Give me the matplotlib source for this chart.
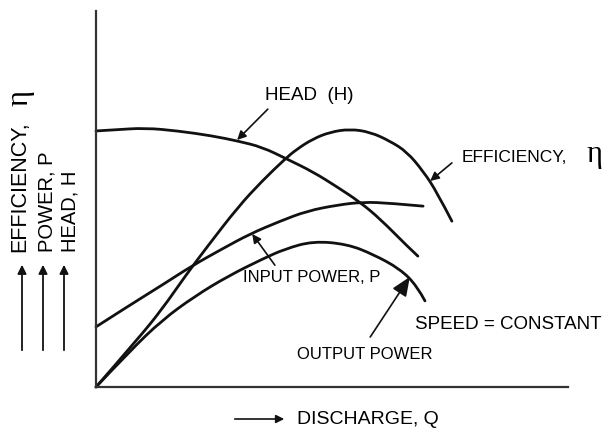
import matplotlib
matplotlib.use("Agg")
import matplotlib.pyplot as plt
from matplotlib.path import Path
from matplotlib.patches import PathPatch, FancyArrowPatch

# discharge Q and curve values, arbitrary units (axes span 0..10)
head_q = [0.0, 0.40, 1.04, 1.74, 2.46, 3.01, 3.52, 4.05, 4.60, 5.11, 5.59, 6.02, 6.59, 6.82]
head_h = [6.81, 6.84, 6.89, 6.81, 6.68, 6.54, 6.38, 6.06, 5.72, 5.32, 4.92, 4.47, 3.75, 3.48]

eff_q = [0.0, 0.89, 1.40, 1.89, 2.35, 3.01, 3.52, 4.00, 4.26, 4.60, 4.96, 5.38, 5.81, 6.23, 6.59, 6.93, 7.22, 7.54]
eff_e = [0.0, 1.28, 2.07, 2.95, 3.72, 4.79, 5.48, 6.06, 6.33, 6.60, 6.78, 6.86, 6.78, 6.54, 6.25, 5.74, 5.19, 4.41]

inp_q = [0.0, 0.72, 1.40, 2.03, 2.67, 3.26, 3.90, 4.47, 5.11, 5.66, 6.23, 6.93]
inp_p = [1.60, 2.18, 2.71, 3.22, 3.67, 4.07, 4.41, 4.68, 4.84, 4.92, 4.89, 4.81]

out_q = [0.0, 0.72, 1.40, 2.10, 2.80, 3.52, 4.00, 4.60, 5.32, 5.87, 6.44, 6.80, 6.97]
out_p = [0.0, 0.96, 1.78, 2.42, 2.95, 3.40, 3.67, 3.88, 3.80, 3.53, 3.14, 2.69, 2.29]

W, H = 611, 431
FONT = ["Liberation Sans", "DejaVu Sans"]
SERIF = ["Liberation Serif", "DejaVu Serif"]


def smooth_path(xs, ys):
    # quadratic bezier: read points act as control points, midpoints as nodes
    pts = list(zip(xs, ys))
    verts = [pts[0]]
    codes = [Path.MOVETO]
    for i in range(1, len(pts) - 1):
        mid = ((pts[i][0] + pts[i + 1][0]) / 2, (pts[i][1] + pts[i + 1][1]) / 2)
        if i == len(pts) - 2:
            mid = pts[-1]
        verts += [pts[i], mid]
        codes += [Path.CURVE3, Path.CURVE3]
    return Path(verts, codes)


fig = plt.figure(figsize=(W / 100, H / 100), dpi=100)
ax = fig.add_axes([96 / W, 1 - 388 / H, 472 / W, 376 / H])
ax.set_xlim(0, 10)
ax.set_ylim(0, 10)
for side in ("top", "right"):
    ax.spines[side].set_visible(False)
for side in ("left", "bottom"):
    ax.spines[side].set_linewidth(1.6)
    ax.spines[side].set_color("#333333")
ax.set_xticks([])
ax.set_yticks([])

for q, v in [(head_q, head_h), (eff_q, eff_e), (inp_q, inp_p), (out_q, out_p)]:
    ax.add_patch(PathPatch(smooth_path(q, v), facecolor="none", edgecolor="#111111",
                           linewidth=2.0, capstyle="round", clip_on=False))

thin = dict(arrowstyle="-|>", color="#111111", lw=1.2, mutation_scale=13,
            shrinkA=0, shrinkB=0)
big = dict(arrowstyle="-|>,head_length=0.9,head_width=0.38", color="#111111",
           lw=1.2, mutation_scale=13, shrinkA=0, shrinkB=0)

ax.annotate("", xy=(2.99, 6.57), xytext=(3.64, 7.39), arrowprops=thin)
ax.text(3.58, 7.79, "HEAD  (H)", fontsize=13.5, family=FONT, va="center")

ax.annotate("", xy=(7.08, 5.48), xytext=(7.54, 5.96), arrowprops=thin)
ax.text(7.75, 6.14, "EFFICIENCY,", fontsize=12.5, family=FONT, va="center")
ax.text(10.57, 6.2, "\u03b7", fontsize=22, family=SERIF, va="center", ha="center")

ax.annotate("", xy=(3.31, 4.07), xytext=(3.79, 3.24), arrowprops=thin)
ax.text(3.11, 2.93, "INPUT POWER, P", fontsize=12, family=FONT, va="center")

ax.annotate("", xy=(6.65, 2.93), xytext=(5.81, 1.33), arrowprops=big)
ax.text(4.26, 0.88, "OUTPUT POWER", fontsize=12, family=FONT, va="center")

ax.text(6.76, 1.70, "SPEED = CONSTANT", fontsize=13.5, family=FONT, va="center")

# x label with arrow
fig.patches.append(FancyArrowPatch(
    (232 / W, 1 - 420 / H), (287 / W, 1 - 420 / H), transform=fig.transFigure,
    arrowstyle="-|>", color="#111111", lw=1.2, mutation_scale=12))
fig.text(297 / W, 1 - 420 / H, "DISCHARGE, Q", fontsize=14, family=FONT, va="center")

# y labels with arrows
fig.text(20 / W, 1 - 252 / H, "EFFICIENCY,", fontsize=15.5, family=FONT,
         rotation=90, ha="center", va="bottom")
fig.text(20 / W, 1 - 98 / H, "\u03b7", fontsize=22, family=SERIF,
         rotation=90, ha="center", va="center")
fig.text(47 / W, 1 - 252 / H, "POWER, P", fontsize=14.5, family=FONT,
         rotation=90, ha="center", va="bottom")
fig.text(70 / W, 1 - 252 / H, "HEAD, H", fontsize=14.5, family=FONT,
         rotation=90, ha="center", va="bottom")
for x in (22, 43, 64):
    fig.patches.append(FancyArrowPatch(
        (x / W, 1 - 354 / H), (x / W, 1 - 263 / H), transform=fig.transFigure,
        arrowstyle="-|>", color="#111111", lw=1.3, mutation_scale=13))

fig.savefig("out.png", dpi=100, facecolor="white")
